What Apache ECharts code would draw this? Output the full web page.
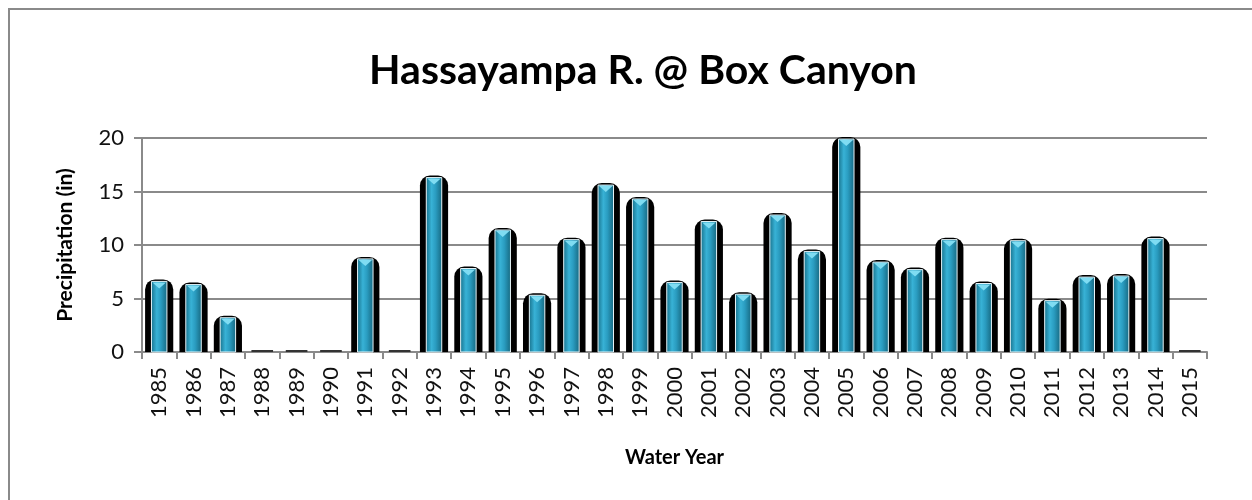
<!DOCTYPE html>
<html><head><meta charset="utf-8">
<script src="https://cdn.jsdelivr.net/npm/echarts@6/dist/echarts.min.js"></script>
<style>html,body{margin:0;padding:0;background:#fff}#c{width:1252px;height:500px}</style>
</head><body><div id="c"></div>
<script>
const years = ['1985','1986','1987','1988','1989','1990','1991','1992','1993','1994','1995','1996','1997','1998','1999','2000','2001','2002','2003','2004','2005','2006','2007','2008','2009','2010','2011','2012','2013','2014','2015'];
const precip = [6.6,6.3,3.2,0.05,0.05,0.05,8.7,0.05,16.3,7.8,11.4,5.3,10.5,15.6,14.3,6.5,12.2,5.4,12.8,9.4,19.9,8.4,7.7,10.5,6.4,10.4,4.8,7.0,7.1,10.6,0.05];
const yTicks = {min:0, max:20, interval:5};
const titleText = 'Hassayampa R. @ Box Canyon';
const yName = 'Precipitation (in)';
const xName = 'Water Year';

const chart = echarts.init(document.getElementById('c'));
const blueGrad = new echarts.graphic.LinearGradient(0,0,1,0,[
  {offset:0,color:'#17708a'},{offset:0.35,color:'#38b2d6'},{offset:0.6,color:'#2a9cc0'},{offset:1,color:'#16677f'}]);
function renderItem(params, api){
  const idx = api.value(0), v = api.value(1);
  const top = api.coord([idx, v]);
  const base = api.coord([idx, 0]);
  const cw = api.size([1,0])[0];
  const bw = cw*0.82, iw = cw*0.45;
  const cx = top[0];
  const h = base[1]-top[1];
  const children = [];
  if (v <= 0) return {type:'group',children:[]};
  if (h < 3){
    children.push({type:'rect',shape:{x:cx-iw*0.7,y:base[1]-2,width:iw*1.4,height:2},style:{fill:'#333'}});
    return {type:'group',children};
  }
  const r = Math.min(10, (h+2)/1.5);
  children.push({type:'rect',shape:{x:cx-bw/2,y:top[1]-2,width:bw,height:h+2,r:[r,r,0,0]},style:{fill:'#000'}});
  children.push({type:'rect',shape:{x:cx-iw/2,y:top[1],width:iw,height:h},style:{fill:blueGrad,stroke:'#e8f6fa',lineWidth:1}});
  children.push({type:'polygon',shape:{points:[[cx-iw/2+1,top[1]+1],[cx+iw/2-1,top[1]+1],[cx,top[1]+7]]},style:{fill:'#7fdcf2'}});
  return {type:'group',children};
}
chart.setOption({
  animation:false,
  textStyle:{fontFamily:'Lato'},
  title:{text:titleText,left:638,textAlign:'center',top:45,textStyle:{fontFamily:'Lato',fontWeight:'bold',fontSize:41,color:'#000'}},
  graphic:[{type:'rect',shape:{x:9,y:9,width:1400,height:700},style:{fill:'none',stroke:'#8a8a8a',lineWidth:2},silent:true}],
  grid:{left:142,right:45,top:138,bottom:148},
  xAxis:{type:'category',data:years,boundaryGap:true,
    name:xName,nameLocation:'middle',nameGap:96,nameTextStyle:{fontFamily:'Lato',fontWeight:'bold',fontSize:20,color:'#000'},
    axisLine:{lineStyle:{color:'#8a8a8a',width:2}},
    axisTick:{show:true,length:7,lineStyle:{color:'#8a8a8a',width:2}},
    axisLabel:{rotate:90,fontSize:22,color:'#111',margin:15,interval:0}},
  yAxis:{type:'value',min:yTicks.min,max:yTicks.max,interval:yTicks.interval,
    name:yName,nameLocation:'middle',nameGap:66,nameRotate:90,nameTextStyle:{fontFamily:'Lato',fontWeight:'bold',fontSize:21,color:'#000'},
    axisLine:{show:true,lineStyle:{color:'#8a8a8a',width:2}},
    axisTick:{show:true,length:8,lineStyle:{color:'#8a8a8a',width:2}},
    splitLine:{lineStyle:{color:'#8a8a8a',width:2}},
    axisLabel:{fontSize:22,color:'#111',margin:18}},
  series:[{type:'custom',renderItem,data:precip.map((v,i)=>[i,v]),encode:{x:0,y:1}}]
});
</script></body></html>
